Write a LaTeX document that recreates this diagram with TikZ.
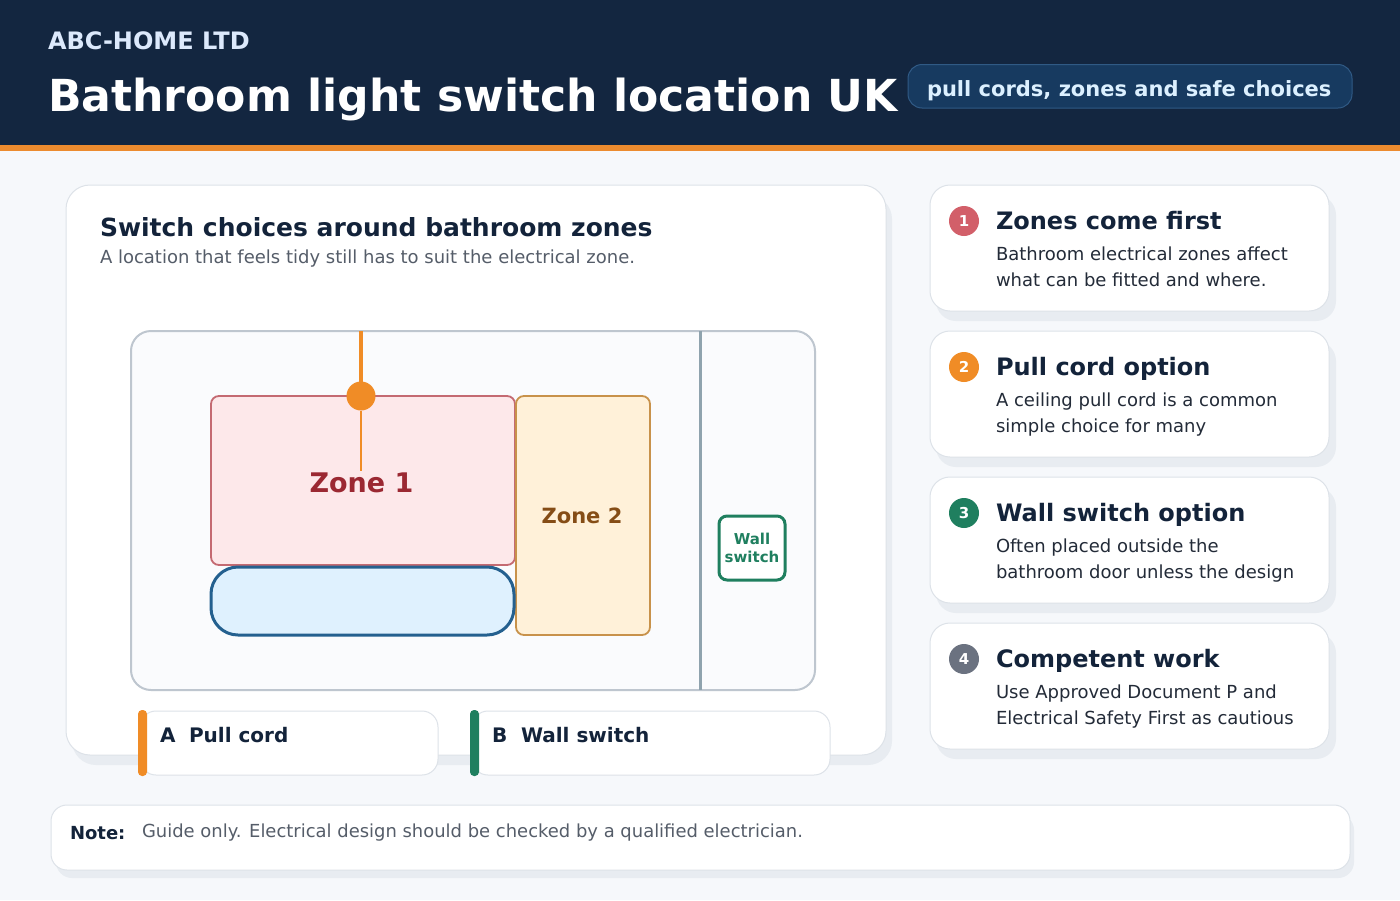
\documentclass[tikz,border=0pt]{standalone}
\usepackage{xcolor}
\usepackage{fontspec}
\setmainfont{DejaVu Sans}
\definecolor{headColor}{RGB}{19,38,64}
\definecolor{stripeColor}{RGB}{236,139,47}
\definecolor{pageColor}{RGB}{246,248,251}
\definecolor{shadowColor}{RGB}{232,236,241}
\definecolor{edgeColor}{RGB}{221,226,232}
\definecolor{inkColor}{RGB}{19,35,58}
\definecolor{greyColor}{RGB}{85,93,105}
\definecolor{bodyColor}{RGB}{35,43,56}
\definecolor{pillColor}{RGB}{23,58,96}
\definecolor{pillEdge}{RGB}{48,90,133}
\definecolor{pillText}{RGB}{220,240,255}
\definecolor{brandColor}{RGB}{220,233,252}
\definecolor{roomColor}{RGB}{250,251,253}
\definecolor{roomEdge}{RGB}{190,198,207}
\definecolor{wallColor}{RGB}{143,163,174}
\definecolor{zoneOneFill}{RGB}{253,232,234}
\definecolor{zoneOneEdge}{RGB}{196,106,114}
\definecolor{zoneOneText}{RGB}{155,40,50}
\definecolor{zoneTwoFill}{RGB}{255,241,217}
\definecolor{zoneTwoEdge}{RGB}{200,146,75}
\definecolor{zoneTwoText}{RGB}{133,77,22}
\definecolor{bathFill}{RGB}{223,241,254}
\definecolor{bathEdge}{RGB}{36,96,143}
\definecolor{cordColor}{RGB}{240,140,38}
\definecolor{greenColor}{RGB}{31,127,95}
\definecolor{redBadge}{RGB}{210,95,105}
\definecolor{greyBadge}{RGB}{107,114,128}
\newcommand{\bodyfont}{\fontsize{18}{18}\selectfont}
\newcommand{\headfont}{\fontsize{24}{24}\selectfont\bfseries}
\tikzset{
  txt/.style={anchor=base west,inner sep=0pt,outer sep=0pt},
  mid/.style={anchor=base,inner sep=0pt,outer sep=0pt},
  card/.style={fill=white,draw=edgeColor,line width=1pt},
  shade/.style={fill=shadowColor},
  badge/.style={circle,minimum size=30pt,inner sep=0pt,outer sep=0pt,text=white,font=\fontsize{15}{15}\selectfont\bfseries},
  cardhead/.style={txt,text=inkColor,font=\headfont},
  cardbody/.style={txt,text=bodyColor,font=\bodyfont},
  legendtext/.style={txt,text=inkColor,font=\fontsize{20}{20}\selectfont\bfseries},
}
\begin{document}
\begin{tikzpicture}[x=1pt,y=-1pt]
\path[use as bounding box,fill=pageColor] (0,0) rectangle (1400,900);
% header
\path[fill=headColor] (0,0) rectangle (1400,145);
\path[fill=stripeColor] (0,145) rectangle (1400,151);
\node[txt,text=brandColor,font=\fontsize{24}{24}\selectfont\bfseries] (brand) at (48,49) {ABC-HOME LTD};
\node[txt,text=white,font=\fontsize{44.1}{44}\selectfont\bfseries] (title) at (48,111) {Bathroom light switch location UK};
\path[fill=pillColor,draw=pillEdge,line width=1pt,rounded corners=14pt] (908,64.5) rectangle (1352,108);
\node[txt,text=pillText,font=\fontsize{21}{21}\selectfont\bfseries] (tagline) at (927,96) {pull cords, zones and safe choices};
% main card
\path[shade,rounded corners=24pt] (72,195) rectangle (892,765);
\path[card,rounded corners=24pt] (66,185) rectangle (886,755);
\node[txt,text=inkColor,font=\fontsize{25}{25}\selectfont\bfseries] (mainhead) at (100,236) {Switch choices around bathroom zones};
\node[txt,text=greyColor,font=\bodyfont] (mainsub) at (100,263) {A location that feels tidy still has to suit the electrical zone.};
% room plan
\path[fill=roomColor,draw=roomEdge,line width=2pt,rounded corners=20pt] (131,331) rectangle (815,690);
\path[fill=wallColor] (699,331) rectangle (702,690);
\path[fill=zoneOneFill,draw=zoneOneEdge,line width=1.8pt,rounded corners=8pt] (211,396) rectangle (515,565);
\path[fill=zoneTwoFill,draw=zoneTwoEdge,line width=1.8pt,rounded corners=8pt] (516,396) rectangle (650,635);
\path[fill=bathFill,draw=bathEdge,line width=3pt,rounded corners=27pt] (211,567) rectangle (514,635);
\node[mid,text=zoneOneText,font=\fontsize{27}{27}\selectfont\bfseries] (zoneone) at (361.5,492) {Zone 1};
\node[mid,text=zoneTwoText,font=\fontsize{21}{21}\selectfont\bfseries] (zonetwo) at (582,523) {Zone 2};
% pull cord
\coordinate (cordtop) at (361,331);
\coordinate (cordend) at (361,471);
\node[circle,fill=cordColor,minimum size=29pt,inner sep=0pt,outer sep=0pt] (knob) at (361,396) {};
\draw[cordColor,line width=4pt] (cordtop) -- (knob);
\draw[cordColor,line width=1.5pt] (knob) -- (cordend);
% wall switch
\path[fill=white,draw=greenColor,line width=3pt,rounded corners=8pt] (719,516) rectangle (785,580);
\node[mid,text=greenColor,font=\fontsize{15}{15}\selectfont\bfseries] (wallword) at (752,544) {Wall};
\node[mid,text=greenColor,font=\fontsize{15}{15}\selectfont\bfseries] (switchword) at (752,562) {switch};
% legend
\path[card,rounded corners=16pt] (140,711) rectangle (438,775);
\path[fill=cordColor,rounded corners=4pt] (138,710) rectangle (147,776);
\node[legendtext] (legenda) at (160,742) {A};
\node[legendtext] (pullword) at (189,742) {Pull cord};
\path[card,rounded corners=16pt] (472,711) rectangle (830,775);
\path[fill=greenColor,rounded corners=4pt] (470,710) rectangle (479,776);
\node[legendtext] (legendb) at (492,742) {B};
\node[legendtext] (wallswitch) at (521,742) {Wall switch};
% side card 1
\path[shade,rounded corners=20pt] (936,195) rectangle (1336,321);
\path[card,rounded corners=20pt] (930,185) rectangle (1329,311);
\node[badge,fill=redBadge] (numone) at (964,221) {1};
\node[cardhead] (headone) at (996,229) {Zones come first};
\node[cardbody] (bodyonea) at (996,260) {Bathroom electrical zones affect};
\node[cardbody] (bodyoneb) at (996,286) {what can be fitted and where.};
% side card 2
\path[shade,rounded corners=20pt] (936,341) rectangle (1336,467);
\path[card,rounded corners=20pt] (930,331) rectangle (1329,457);
\node[badge,fill=cordColor] (numtwo) at (964,367) {2};
\node[cardhead] (headtwo) at (996,375) {Pull cord option};
\node[cardbody] (bodytwoa) at (996,406) {A ceiling pull cord is a common};
\node[cardbody] (bodytwob) at (996,432) {simple choice for many};
% side card 3
\path[shade,rounded corners=20pt] (936,487) rectangle (1336,613);
\path[card,rounded corners=20pt] (930,477) rectangle (1329,603);
\node[badge,fill=greenColor] (numthree) at (964,513) {3};
\node[cardhead] (headthree) at (996,521) {Wall switch option};
\node[cardbody] (bodythreea) at (996,552) {Often placed outside the};
\node[cardbody] (bodythreeb) at (996,578) {bathroom door unless the design};
% side card 4
\path[shade,rounded corners=20pt] (936,633) rectangle (1336,759);
\path[card,rounded corners=20pt] (930,623) rectangle (1329,749);
\node[badge,fill=greyBadge] (numfour) at (964,659) {4};
\node[cardhead] (headfour) at (996,667) {Competent work};
\node[cardbody] (bodyfoura) at (996,698) {Use Approved Document P and};
\node[cardbody] (bodyfourb) at (996,724) {Electrical Safety First as cautious};
% note
\path[shade,rounded corners=16pt] (56,814) rectangle (1354,878);
\path[card,rounded corners=16pt] (51,805) rectangle (1350,870);
\node[txt,text=inkColor,font=\fontsize{18}{18}\selectfont\bfseries] (notelabel) at (70,839) {Note:};
\node[txt,text=greyColor,font=\fontsize{17.95}{18}\selectfont] (notetext) at (142,837) {Guide only. Electrical design should be checked by a qualified electrician.};
\end{tikzpicture}
\end{document}
